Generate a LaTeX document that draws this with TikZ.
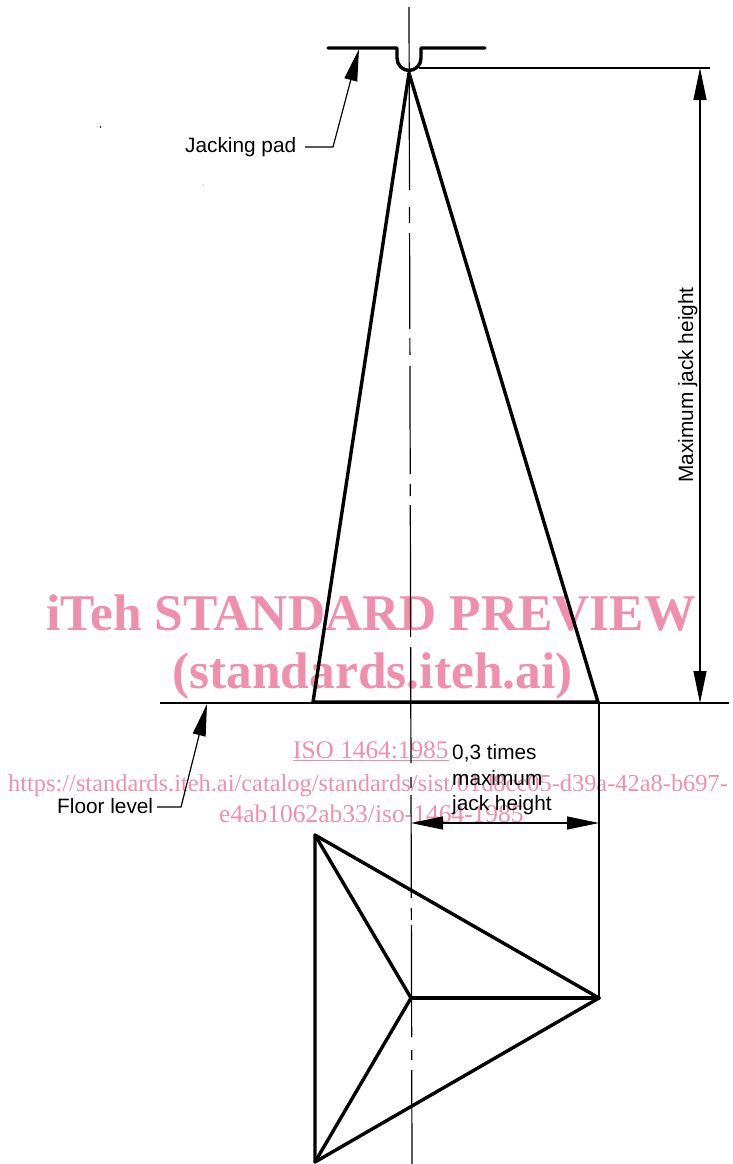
\documentclass[tikz,border=0pt]{standalone}
\usepackage{fontspec}
\usetikzlibrary{arrows.meta}
\setmainfont{Liberation Sans}
\newfontfamily\wmfont{Liberation Serif}
\definecolor{wmpink}{HTML}{F08FAB}
\tikzset{
  x=1pt,y=-1pt,
  thin line/.style={line width=1.2pt,black},
  heavy/.style={line width=3.4pt,black,line cap=round,line join=round},
  dimarrow/.style={{Triangle[length=32pt,width=13pt,inset=0pt]}-{Triangle[length=32pt,width=13pt,inset=0pt]},thin line},
  leader/.style={-{Triangle[length=32pt,width=13pt,inset=0pt]},thin line},
  label/.style={inner sep=0pt,anchor=base west,font=\fontsize{20.8}{22}\selectfont,black},
  wm/.style={inner sep=0pt,anchor=base west,text=wmpink},
}
\begin{document}
\begin{tikzpicture}
\useasboundingbox (0,0) rectangle (733,1164);
% watermark
\node[wm,font=\wmfont\bfseries\fontsize{51.5}{54}\selectfont] (w1) at (46,630) {iTeh STANDARD PREVIEW};
\node[wm,font=\wmfont\bfseries\fontsize{51.5}{54}\selectfont] (w2) at (172,688) {(standards.iteh.ai)};
\node[wm,font=\wmfont\fontsize{25.3}{27}\selectfont] (w3) at (293,758) {\underline{ISO 1464:1985}};
\node[wm,font=\wmfont\fontsize{24.4}{27}\selectfont] (w4) at (8,791) {https://standards.iteh.ai/catalog/standards/sist/01d8cc05-d39a-42a8-b697-};
\node[wm,font=\wmfont\fontsize{25.5}{27}\selectfont] (w5) at (219,822) {e4ab1062ab33/iso-1464-1985};
% coordinates
\coordinate (ctop) at (409,7);
\coordinate (cbot) at (412,1164);
\coordinate (apex) at (409,73);
\coordinate (bl) at (313,702);
\coordinate (br) at (598,702);
\coordinate (fl) at (160,703);
\coordinate (fr) at (729,703);
\coordinate (dimt) at (700,68);
\coordinate (dimb) at (700,703);
\coordinate (pa) at (328,48);
\coordinate (pb) at (485,48);
\coordinate (ext) at (419,68);
\coordinate (extr) at (710,68);
\coordinate (pl1) at (315,835);
\coordinate (pl2) at (315,1162);
\coordinate (pm) at (411,998);
\coordinate (pr) at (599,998);
\coordinate (xt) at (599,703);
\coordinate (d1) at (411,823);
\coordinate (d2) at (599,823);
\coordinate (jpTip) at (359,49);
\coordinate (jpEl) at (333,147);
\coordinate (jpSt) at (305,147);
\coordinate (flTip) at (207,704);
\coordinate (flEl) at (181,807);
\coordinate (flSt) at (157,807);
% centre line
\draw[thin line,dash pattern=on 183pt off 17pt on 16pt off 10pt on 96pt off 9pt on 17pt off 11pt on 108pt off 10pt on 12pt off 9pt on 132pt off 10pt on 116pt off 14pt on 11pt off 7pt on 103pt off 10pt on 12pt off 5pt on 112pt off 13pt on 10pt off 10pt on 94pt] (ctop) -- (cbot);
% pad
\draw[heavy] (pa) -- (397,48) -- (397,58) arc[start angle=180,end angle=360,x radius=12,y radius=-12.5] -- (421,48) -- (pb);
% elevation
\draw[heavy] (apex) -- (bl) -- (br) -- cycle;
% thin lines
\draw[thin line] (fl) -- (fr);
\draw[thin line] (ext) -- (extr);
\draw[thin line] (xt) -- (pr);
\draw[dimarrow] (dimt) -- (dimb);
\draw[dimarrow] (d1) -- (d2);
\draw[leader] (jpSt) -- (jpEl) -- (jpTip);
\draw[leader] (flSt) -- (flEl) -- (flTip);
% plan
\draw[heavy] (pl1) -- (pl2) -- (pr) -- cycle;
\draw[heavy] (pl1) -- (pm) -- (pl2);
\draw[heavy] (pm) -- (pr);
% specks
\fill[black] (100.5,127) circle[radius=0.9];
\fill[black!70] (203,185) circle[radius=0.5];
% labels
\node[label] (jp) at (185,152) {Jacking pad};
\node[label] (flv) at (57,813) {Floor level};
\node[label] (t1) at (452,759) {0,3 times};
\node[label] (t2) at (452,785) {maximum};
\node[label] (t3) at (452,810) {jack height};
\node[label,rotate=90,anchor=base] (mjh) at (693,385) {Maximum jack height};
\end{tikzpicture}
\end{document}
